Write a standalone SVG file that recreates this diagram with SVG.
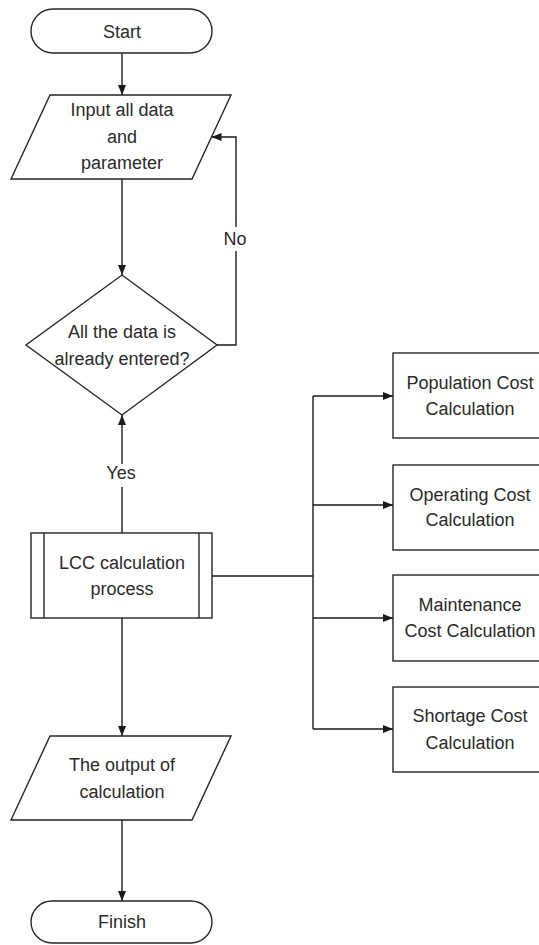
<svg xmlns="http://www.w3.org/2000/svg" width="539" height="945" viewBox="0 0 539 945">
<style>
.s{fill:#fff;stroke:#262626;stroke-width:1.4}
.c{fill:none;stroke:#1a1a1a;stroke-width:1.4}
text{font-family:"Liberation Sans",Arial,sans-serif;font-size:18px;fill:#2a2a2a;text-anchor:middle}
</style>
<defs>
<marker id="ah" markerUnits="userSpaceOnUse" markerWidth="10" markerHeight="10" viewBox="0 0 10 10" refX="10" refY="5" orient="auto">
<path d="M0,1 L10,5 L0,9 Z" fill="#1a1a1a"/>
</marker>
</defs>
<rect width="539" height="945" fill="#fff"/>
<g id="connectors">
<path class="c" d="M122,53 V95" marker-end="url(#ah)"/>
<path class="c" d="M122,179 V275" marker-end="url(#ah)"/>
<path class="c" d="M217,345 H236 V137 H211.5" marker-end="url(#ah)"/>
<path class="c" d="M122,533 V415" marker-end="url(#ah)"/>
<path class="c" d="M122,618 V736" marker-end="url(#ah)"/>
<path class="c" d="M122,820 V901" marker-end="url(#ah)"/>
<path class="c" d="M212,576 H313"/>
<path class="c" d="M313,396 V729"/>
<path class="c" d="M313,396 H393" marker-end="url(#ah)"/>
<path class="c" d="M313,505 H393" marker-end="url(#ah)"/>
<path class="c" d="M313,618 H393" marker-end="url(#ah)"/>
<path class="c" d="M313,729 H393" marker-end="url(#ah)"/>
<rect x="222" y="227" width="26" height="24" fill="#fff"/>
<text x="235" y="245">No</text>
<rect x="104" y="464" width="34" height="23" fill="#fff"/>
<text x="121" y="479">Yes</text>
</g>
<g id="start">
<rect class="s" x="31" y="9" width="181" height="44" rx="22"/>
<text x="122" y="38">Start</text>
</g>
<g id="input">
<path class="s" d="M50,95 L231,95 L192,179 L11,179 Z"/>
<text x="122" y="116">Input all data</text>
<text x="122" y="143">and</text>
<text x="122" y="169">parameter</text>
</g>
<g id="decision">
<path class="s" d="M122,275 L217,345 L122,415 L26,345 Z"/>
<text x="122" y="338">All the data is</text>
<text x="122" y="365">already entered?</text>
</g>
<g id="lcc">
<rect class="s" x="31" y="533" width="181" height="85"/>
<line class="s" x1="44" y1="533" x2="44" y2="618"/>
<line class="s" x1="199" y1="533" x2="199" y2="618"/>
<text x="122" y="569">LCC calculation</text>
<text x="122" y="595">process</text>
</g>
<g id="output">
<path class="s" d="M50,736 L231,736 L192,820 L11,820 Z"/>
<text x="122" y="771">The output of</text>
<text x="122" y="798">calculation</text>
</g>
<g id="finish">
<rect class="s" x="31" y="901" width="181" height="42" rx="21"/>
<text x="122" y="928">Finish</text>
</g>
<g id="population">
<rect class="s" x="393" y="353" width="160" height="85"/>
<text x="470" y="389">Population Cost</text>
<text x="470" y="415">Calculation</text>
</g>
<g id="operating">
<rect class="s" x="393" y="465" width="160" height="85"/>
<text x="470" y="501">Operating Cost</text>
<text x="470" y="526">Calculation</text>
</g>
<g id="maintenance">
<rect class="s" x="393" y="575" width="160" height="86"/>
<text x="470" y="611">Maintenance</text>
<text x="470" y="637">Cost Calculation</text>
</g>
<g id="shortage">
<rect class="s" x="393" y="687" width="160" height="85"/>
<text x="470" y="722">Shortage Cost</text>
<text x="470" y="749">Calculation</text>
</g>
</svg>
